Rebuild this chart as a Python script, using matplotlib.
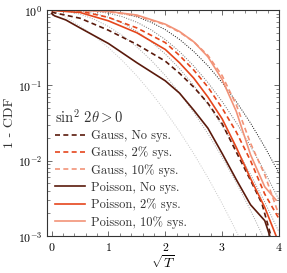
import math
import matplotlib
matplotlib.use("Agg")
import matplotlib.pyplot as plt
from matplotlib.ticker import FuncFormatter, MultipleLocator, LogLocator, NullFormatter

plt.rcParams['mathtext.fontset'] = 'cm'
plt.rcParams['font.family'] = ['cmr10', 'DejaVu Serif']
plt.rcParams['axes.unicode_minus'] = False

# ---- data: sqrt(T) grid and 1-CDF values ----
s_pois_nosys = [0, 0.05, 0.25, 0.5, 1.0, 1.5, 2.0, 2.25, 2.5, 2.75, 3.0, 3.25, 3.5, 3.75, 3.84]
p_pois_nosys = [0.90, 0.84, 0.74, 0.58, 0.36, 0.20, 0.115, 0.079, 0.047, 0.027, 0.0125, 0.0056, 0.0026, 0.0016, 0.001]

s_gauss_nosys = [0, 0.05, 0.5, 1.0, 1.5, 2.0, 2.25, 2.5, 2.75, 3.0, 3.25, 3.5, 3.7, 3.86]
p_gauss_nosys = [0.95, 0.92, 0.78, 0.54, 0.35, 0.21, 0.145, 0.095, 0.058, 0.031, 0.013, 0.0055, 0.0027, 0.001]

s_pois_2 = [0, 0.5, 1.0, 1.5, 2.0, 2.25, 2.5, 2.75, 3.0, 3.25, 3.5, 3.75, 3.95]
p_pois_2 = [0.99, 0.93, 0.72, 0.50, 0.30, 0.20, 0.125, 0.07, 0.036, 0.015, 0.0058, 0.0024, 0.001]

s_gauss_2 = [0, 0.5, 1.0, 1.5, 2.0, 2.25, 2.5, 2.75, 3.0, 3.25, 3.5, 3.75, 4.0]
p_gauss_2 = [1.0, 0.97, 0.80, 0.58, 0.37, 0.25, 0.16, 0.095, 0.05, 0.024, 0.01, 0.0036, 0.0017]

s_pois_10 = [0, 0.5, 1.0, 1.5, 2.0, 2.25, 2.5, 2.75, 3.0, 3.25, 3.5, 3.75, 3.95]
p_pois_10 = [1.0, 0.99, 0.96, 0.86, 0.65, 0.52, 0.38, 0.24, 0.12, 0.045, 0.012, 0.0045, 0.003]

s_gauss_10 = [0, 0.5, 1.0, 1.5, 2.0, 2.25, 2.5, 2.75, 3.0, 3.25, 3.5, 3.75, 4.0]
p_gauss_10 = [1.0, 0.99, 0.95, 0.84, 0.64, 0.51, 0.38, 0.25, 0.135, 0.055, 0.017, 0.0065, 0.0019]

# reference (chi-square like) dotted curves
s_ref = [0, 0.25, 0.5, 0.75, 1.0, 1.25, 1.5, 1.75, 2.0, 2.25, 2.5, 2.75, 3.0, 3.25, 3.5, 3.75, 4.0]
p_ref1 = [1, 0.8026, 0.6171, 0.4533, 0.3173, 0.2113, 0.1336, 0.0801, 0.0455, 0.02445, 0.01242, 0.00596, 0.0027, 0.001154, 0.000465, 0.000177, 0.0000633]
p_ref2 = [1, 0.9692, 0.8825, 0.7548, 0.6065, 0.4578, 0.3247, 0.2163, 0.1353, 0.0796, 0.0439, 0.02279, 0.01111, 0.00509, 0.00219, 0.000884, 0.000335]
p_ref3 = [1, 0.9959, 0.9692, 0.9050, 0.8013, 0.6679, 0.5222, 0.3821, 0.2614, 0.1674, 0.1000, 0.0560, 0.02929, 0.01435, 0.00658, 0.00282, 0.00113]
p_ref4 = [1, 0.9995, 0.9928, 0.9671, 0.9098, 0.8155, 0.6900, 0.5475, 0.4060, 0.2811, 0.1811, 0.1090, 0.0611, 0.03197, 0.01560, 0.00710, 0.003019]
p_ref5 = [1, 0.9999, 0.9985, 0.9897, 0.9626, 0.9057, 0.8137, 0.6904, 0.5493, 0.4085, 0.2824, 0.1821, 0.1091, 0.0608, 0.0316, 0.01522, 0.00683]

labels = ['Gauss, No sys.', 'Gauss, 2% sys.', 'Gauss, 10% sys.',
          'Poisson, No sys.', 'Poisson, 2% sys.', 'Poisson, 10% sys.']

c_dark = '#5a1a0c'
c_mid = '#e5461c'
c_light = '#f29378'

fig = plt.figure(figsize=(2.87, 2.73), dpi=100)
ax = fig.add_axes([0.164, 0.1355, 0.808, 0.8275])

ref_cols = ['#c8c8c8', '#a8a8a8', '#909090', '#707070', '#101010']
for p, c in zip([p_ref1, p_ref2, p_ref3, p_ref4, p_ref5], ref_cols):
    ax.plot(s_ref, p, ls=(0, (1, 1.5)), color=c, lw=0.7)

lw = 1.2
ax.plot(s_gauss_nosys, p_gauss_nosys, ls=(0, (3, 2)), color=c_dark, lw=lw, label=labels[0])
ax.plot(s_gauss_2, p_gauss_2, ls=(0, (3, 2)), color=c_mid, lw=lw, label=labels[1])
ax.plot(s_gauss_10, p_gauss_10, ls=(0, (3, 2)), color=c_light, lw=lw, label=labels[2])
ax.plot(s_pois_nosys, p_pois_nosys, color=c_dark, lw=lw, label=labels[3])
ax.plot(s_pois_2, p_pois_2, color=c_mid, lw=lw, label=labels[4])
ax.plot(s_pois_10, p_pois_10, color=c_light, lw=lw, label=labels[5])

ax.set_yscale('log')
ax.set_xlim(-0.08, 4.0)
ax.set_ylim(1e-3, 1.0)
ax.xaxis.set_major_locator(MultipleLocator(1))
ax.xaxis.set_minor_locator(MultipleLocator(0.2))
ax.xaxis.set_major_formatter(FuncFormatter(lambda v, pos: r'$%d$' % round(v)))
ax.yaxis.set_major_locator(LogLocator(base=10, numticks=10))
ax.yaxis.set_minor_locator(LogLocator(base=10, subs=range(2, 10), numticks=20))
ax.yaxis.set_minor_formatter(NullFormatter())
ax.yaxis.set_major_formatter(FuncFormatter(lambda v, pos: r'$10^{%d}$' % round(math.log10(v))))
ax.tick_params(which='both', direction='in', top=True, right=True, labelsize=8.5, color='#555555')
ax.tick_params(which='major', length=3.5, width=0.6)
ax.tick_params(which='minor', length=2, width=0.5)
for sp in ax.spines.values():
    sp.set_linewidth(0.8)
    sp.set_color('#333333')

ax.set_xlabel(r'$\sqrt{T}$', fontsize=10, labelpad=0.5)
ax.set_ylabel('1 - CDF', fontsize=10, labelpad=1, color='#333333')

leg = ax.legend(loc='lower left', frameon=False, fontsize=9, title=r'$\sin^2\,2\theta > 0$',
                title_fontsize=10.5, handlelength=2.4, handletextpad=0.55, labelspacing=0.38,
                borderaxespad=0.2, alignment='left')
for t in leg.get_texts():
    t.set_color('#333333')
leg.get_title().set_color('#333333')

fig.savefig('out.png', dpi=100)
